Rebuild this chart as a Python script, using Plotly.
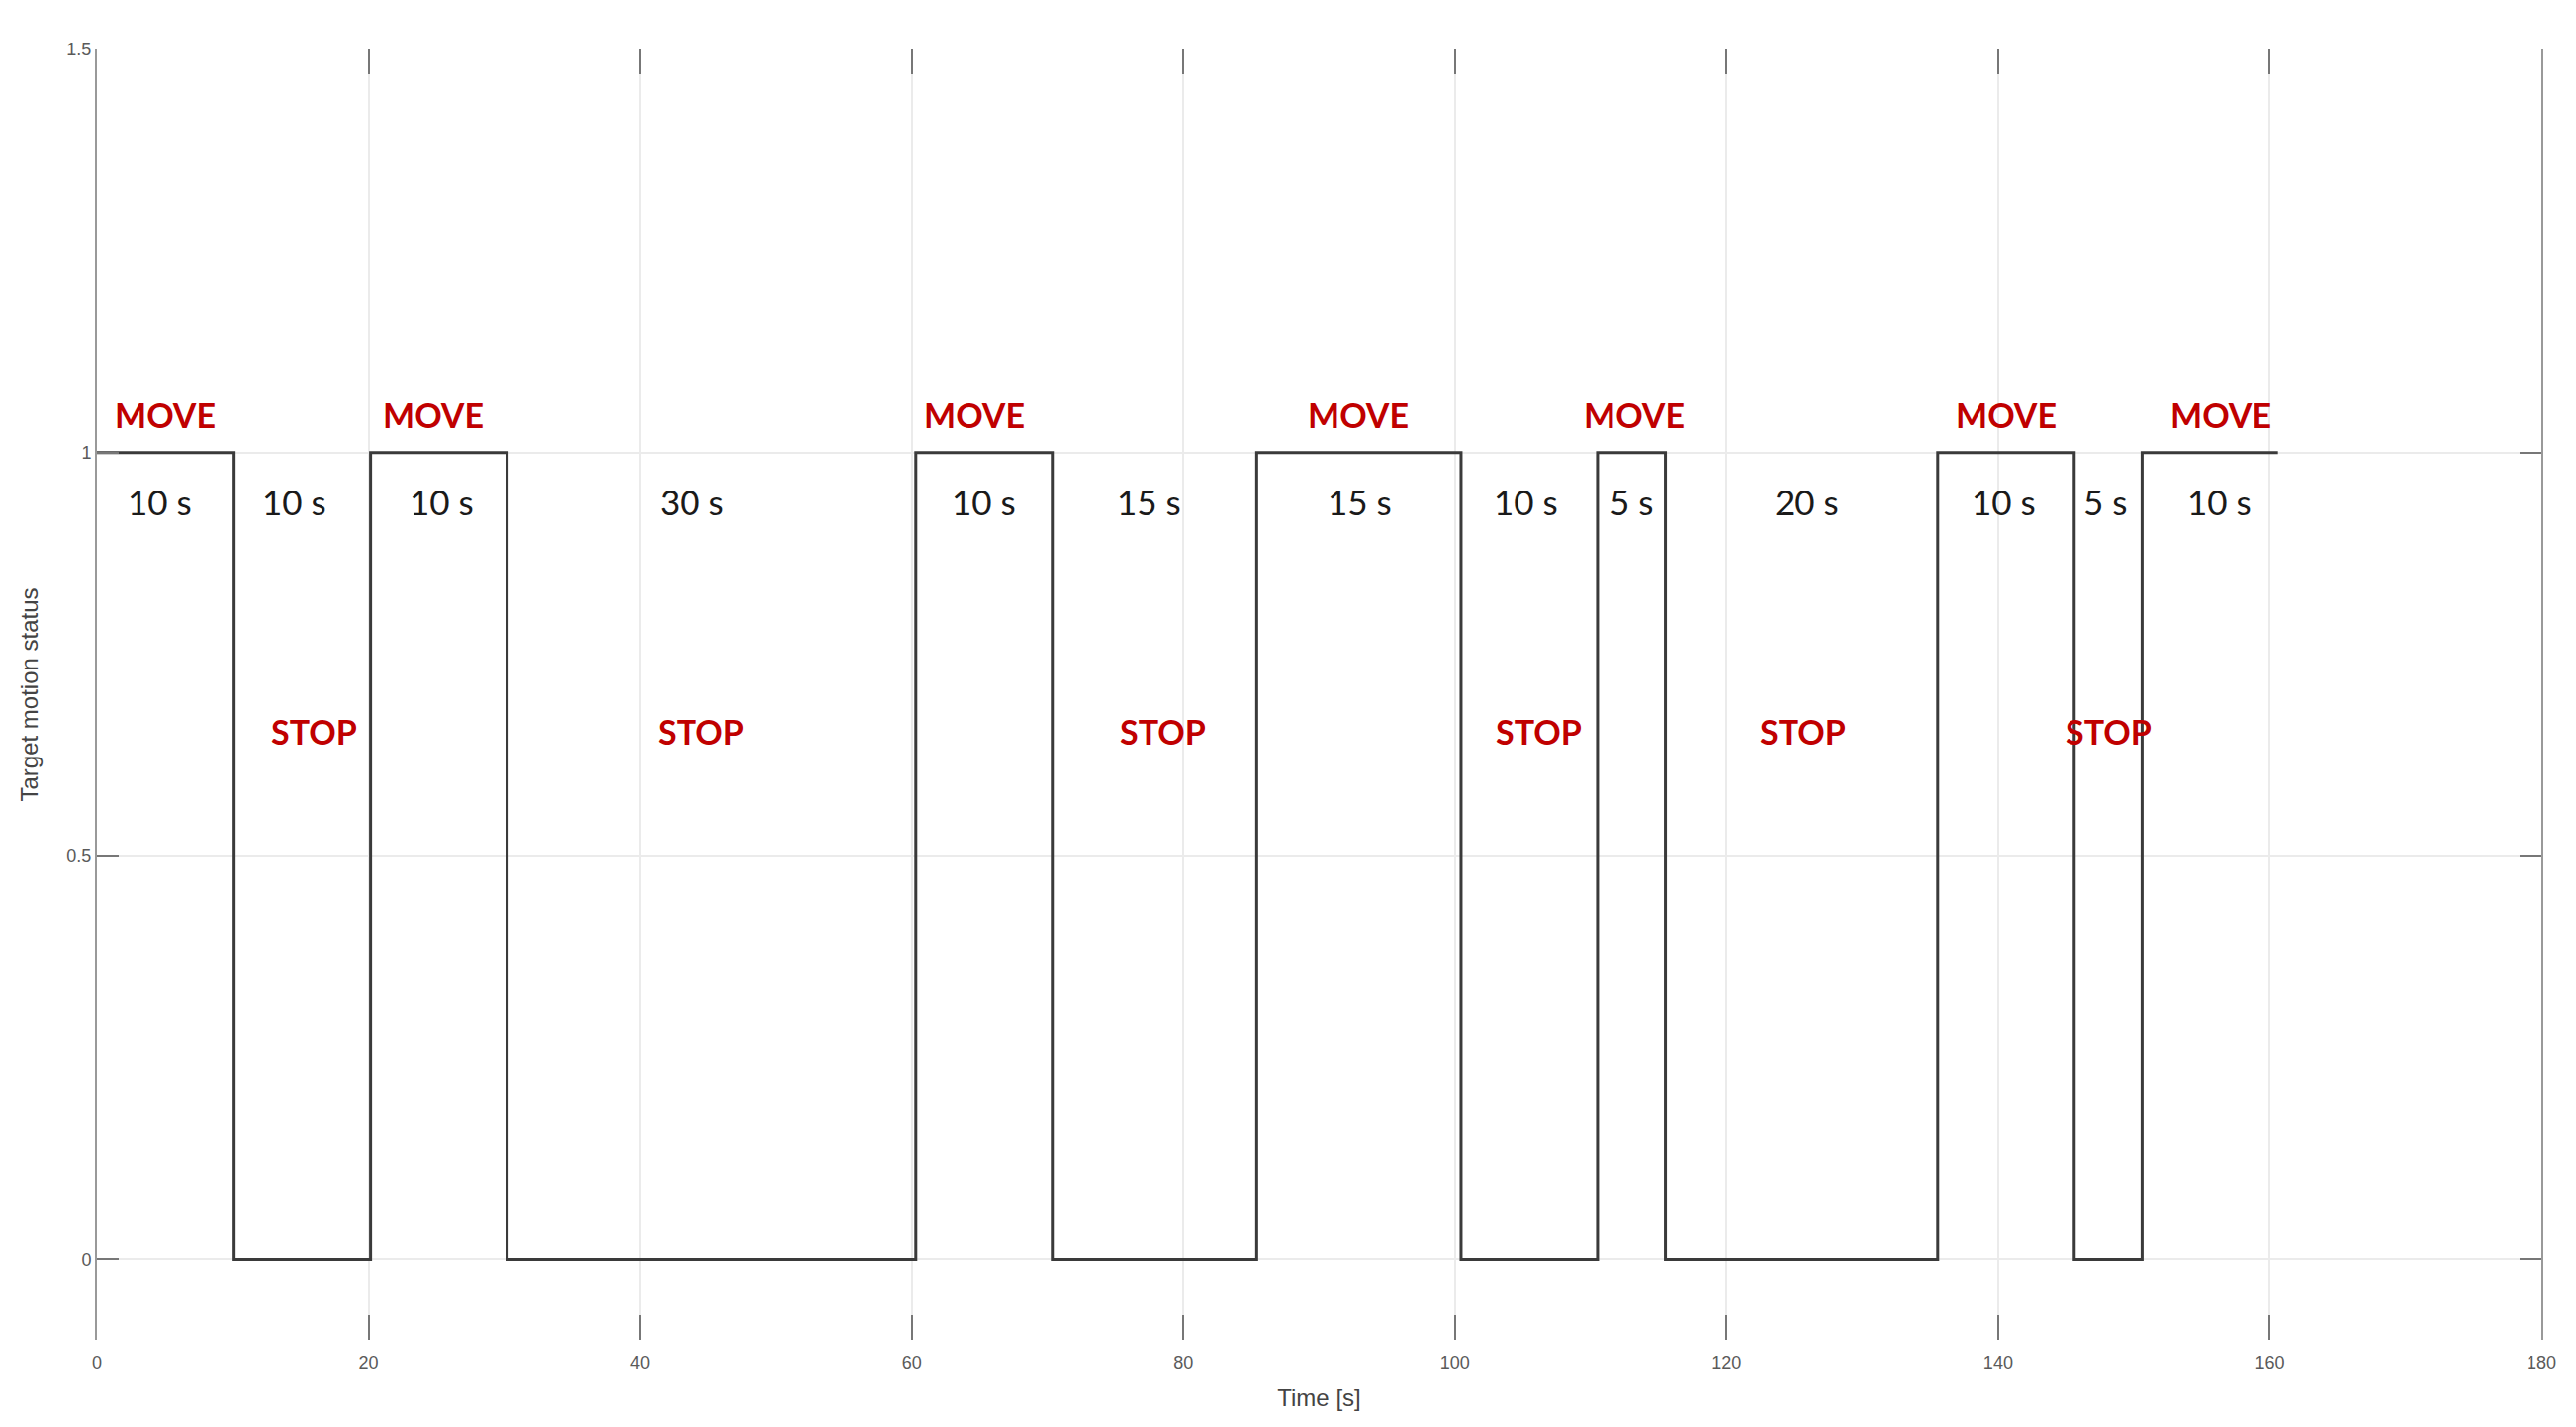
import plotly.graph_objects as go

# Data: step times [s] and motion state (1 = MOVE, 0 = STOP)
times = [0, 10.1, 20.15, 30.2, 60.3, 70.35, 85.4, 100.45, 110.5, 115.5, 135.55, 145.6, 150.6, 160.6]
states = [1, 0, 1, 0, 1, 0, 1, 0, 1, 0, 1, 0, 1, 1]

# nominal segment durations shown as labels [s]
durations = [10, 10, 10, 30, 10, 15, 15, 10, 5, 20, 10, 5, 10]

x_ticks = [0, 20, 40, 60, 80, 100, 120, 140, 160, 180]
y_ticks = [0, 0.5, 1, 1.5]
y_tick_text = ["0", "0.5", "1", "1.5"]

# label anchors (x in seconds)
move_label_x = [5.0, 24.8, 64.6, 92.9, 113.2, 140.6, 156.4]
stop_label_x = [16.0, 44.5, 78.5, 106.2, 125.6, 148.1]
dur_label_x = [4.6, 14.5, 25.4, 43.8, 65.3, 77.5, 93.0, 105.2, 113.0, 125.9, 140.4, 147.9, 156.3]

fig = go.Figure()
fig.add_trace(go.Scatter(
    x=times, y=states, mode="lines", line_shape="hv",
    line=dict(color="#3a3a3a", width=3), showlegend=False,
))

red = "#C00000"
for xv in move_label_x:
    fig.add_annotation(x=xv, y=1.047, text="<b>MOVE</b>", showarrow=False,
                       font=dict(family="Lato", size=34, color=red))
for xv in stop_label_x:
    fig.add_annotation(x=xv, y=0.655, text="<b>STOP</b>", showarrow=False,
                       font=dict(family="Lato", size=34, color=red))
for xv, d in zip(dur_label_x, durations):
    fig.add_annotation(x=xv, y=0.94, text=f"{d} s", showarrow=False,
                       font=dict(family="Lato", size=35, color="#1a1a1a"))

fig.update_layout(
    width=2604, height=1443,
    margin=dict(l=90, r=43, t=42, b=96, autoexpand=False),
    paper_bgcolor="white", plot_bgcolor="white",
    font=dict(family="Liberation Sans", color="#555555"),
    xaxis=dict(
        range=[0, 180], tickvals=x_ticks, ticktext=[str(v) for v in x_ticks],
        showgrid=True, gridcolor="#ebebeb", gridwidth=2, zeroline=False,
        showline=False, ticks="inside", ticklen=25, tickwidth=2, tickcolor="#777777",
        mirror="ticks", tickfont=dict(size=18, color="#5a5a5a"),
        ticklabelstandoff=10,
        title=dict(text="Time [s]", font=dict(size=24, color="#444444"), standoff=18),
    ),
    yaxis=dict(
        range=[-0.1, 1.5], tickvals=y_ticks, ticktext=y_tick_text,
        showgrid=True, gridcolor="#ebebeb", gridwidth=2, zeroline=False,
        showline=True, linecolor="#999999", linewidth=2, mirror="ticks",
        ticks="inside", ticklen=22, tickwidth=2, tickcolor="#777777",
        tickfont=dict(size=18, color="#5a5a5a"),
        title=dict(text="Target motion status", font=dict(size=24, color="#444444"), standoff=22),
    ),
)

fig.write_html("out.html")
